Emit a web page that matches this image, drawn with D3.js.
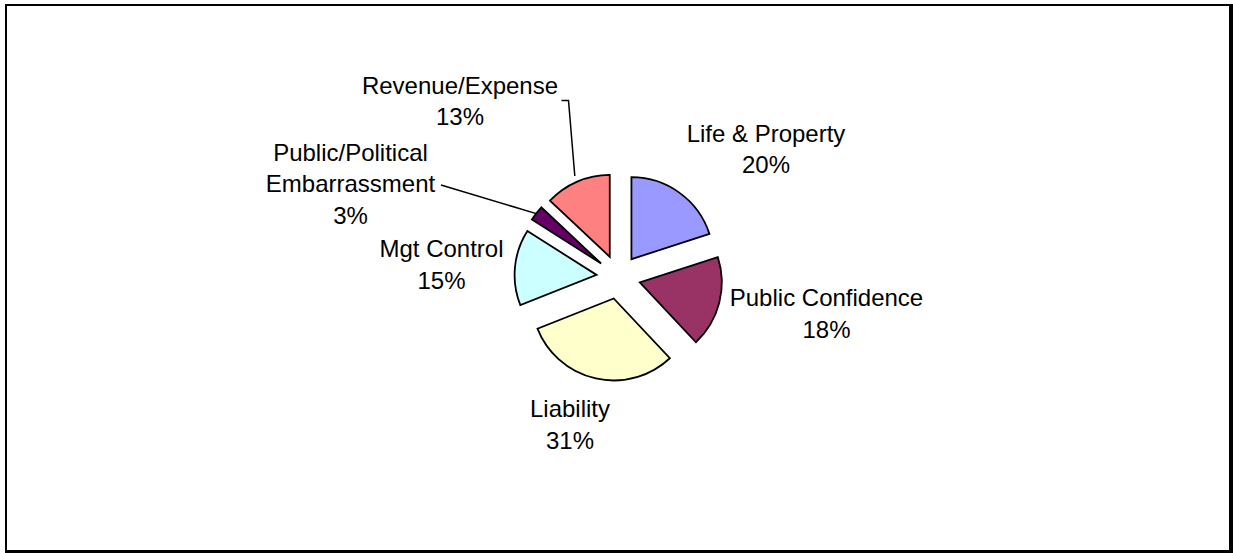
<!DOCTYPE html>
<html>
<head>
<meta charset="utf-8">
<script src="https://cdn.jsdelivr.net/npm/d3@7"></script>
<style>
  html, body { margin: 0; padding: 0; background: #fff; }
  svg { display: block; }
  text { font-family: "Liberation Sans", Arial, sans-serif; fill: #000; }
</style>
</head>
<body>
<svg id="chart" width="1233" height="553"></svg>
<script>
// Risk categories and their shares (percent)
const categories = ["Life & Property", "Public Confidence", "Liability", "Mgt Control", "Public/Political Embarrassment", "Revenue/Expense"];
const values = [20, 18, 31, 15, 3, 13];
const labelLines = [
  ["Life & Property"],
  ["Public Confidence"],
  ["Liability"],
  ["Mgt Control"],
  ["Public/Political", "Embarrassment"],
  ["Revenue/Expense"]
];
const colors = ["#9999FF", "#993366", "#FFFFCC", "#CCFFFF", "#660066", "#FF8080"];

// Layout
const W = 1233, H = 553;
const cx = 618.5, cy = 277, radius = 82, explode = 22;
const fontSize = 24, lineGap = 31.5;
// label anchor: centre x and first-line baseline y
const labelAnchor = {
  "Life & Property": [766, 141.5],
  "Public Confidence": [826.5, 306],
  "Liability": [570, 417],
  "Mgt Control": [441.5, 257],
  "Public/Political Embarrassment": [350.5, 160.5],
  "Revenue/Expense": [460, 93.5]
};
// leader lines start near the label text
const leaderStart = {
  "Public/Political Embarrassment": [[441, 185]],
  "Revenue/Expense": [[561.5, 100.5], [568.5, 100.5]]
};

const svg = d3.select("#chart");

// frame
svg.append("rect").attr("x", 0).attr("y", 0).attr("width", W).attr("height", H).attr("fill", "#fff");
svg.append("line").attr("x1", 6).attr("x2", 6).attr("y1", 4).attr("y2", 553).attr("stroke", "#000").attr("stroke-width", 2);
svg.append("line").attr("x1", 5).attr("x2", 1233).attr("y1", 5).attr("y2", 5).attr("stroke", "#000").attr("stroke-width", 2);
svg.append("line").attr("x1", 1231).attr("x2", 1231).attr("y1", 4).attr("y2", 553).attr("stroke", "#000").attr("stroke-width", 4);
svg.append("line").attr("x1", 5).attr("x2", 1233).attr("y1", 551.5).attr("y2", 551.5).attr("stroke", "#000").attr("stroke-width", 3);

const pie = d3.pie().sort(null).value(d => d.value).startAngle(0).endAngle(2 * Math.PI);
const arc = d3.arc().innerRadius(0).outerRadius(radius);

const data = categories.map((c, i) => ({ name: c, value: values[i], color: colors[i], lines: labelLines[i] }));
const arcs = pie(data);

const g = svg.append("g").attr("transform", `translate(${cx},${cy})`);

function midAngle(a) { return (a.startAngle + a.endAngle) / 2; }
function offset(a) {
  const m = midAngle(a);
  return [Math.sin(m) * explode, -Math.cos(m) * explode];
}

g.selectAll("path.slice")
  .data(arcs)
  .join("path")
  .attr("class", "slice")
  .attr("transform", d => `translate(${offset(d)[0]},${offset(d)[1]})`)
  .attr("d", arc)
  .attr("fill", d => d.data.color)
  .attr("stroke", "#000")
  .attr("stroke-width", 1.8)
  .attr("stroke-linejoin", "miter");

// leader lines
arcs.forEach(d => {
  const start = leaderStart[d.data.name];
  if (!start) return;
  const m = midAngle(d);
  const o = offset(d);
  const rr = d.data.name === "Revenue/Expense" ? radius + 6 : radius - 1;
  const end = [cx + o[0] + Math.sin(m) * rr, cy + o[1] - Math.cos(m) * rr];
  const pts = start.concat([end]);
  svg.append("path")
    .attr("d", d3.line()(pts))
    .attr("fill", "none")
    .attr("stroke", "#000")
    .attr("stroke-width", 1.5);
});

// labels: name lines followed by percentage
arcs.forEach(d => {
  const [x, y] = labelAnchor[d.data.name];
  const t = svg.append("text")
    .attr("text-anchor", "middle")
    .attr("font-size", fontSize);
  const lines = d.data.lines.concat([d3.format(".0f")(d.data.value) + "%"]);
  lines.forEach((ln, i) => {
    t.append("tspan").attr("x", x).attr("y", y + i * lineGap).text(ln);
  });
});
</script>
</body>
</html>
